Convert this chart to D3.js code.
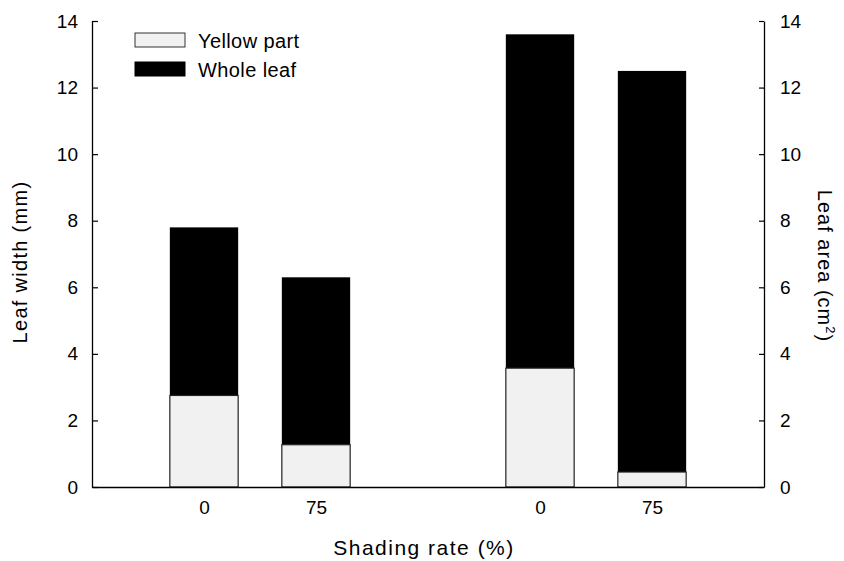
<!DOCTYPE html>
<html>
<head>
<meta charset="utf-8">
<script src="https://cdn.jsdelivr.net/npm/d3@7"></script>
<style>
  body { margin: 0; background: #fff; }
  text { font-family: "Liberation Sans", Arial, sans-serif; fill: #000; }
</style>
</head>
<body>
<div id="chart"></div>
<script>
// data
var slots = [1, 2, 4, 5];              // position of each bar (6-slot axis)
var shadeLabels = ["0", "75", "0", "75"];
var wholeLeaf = [7.8, 6.3, 13.6, 12.5];
var yellowPart = [2.75, 1.27, 3.57, 0.45];
var yTicks = [0, 2, 4, 6, 8, 10, 12, 14];

var svgWidth = 844;
var svgHeight = 561;

var margin = {
      top: 21,
      right: 80,
      bottom: 74,
      left: 92
};

var width = svgWidth - margin.left - margin.right;
var height = svgHeight - margin.top - margin.bottom;

var svg = d3.select("#chart")
            .append("svg")
            .attr("width", svgWidth)
            .attr("height", svgHeight);

var chart = svg.append("g").attr("transform", `translate(${margin.left}, ${margin.top})`);

var xScale = d3.scaleLinear().domain([0, 6]).range([0, width]);
var yScale = d3.scaleLinear().domain([0, 14]).range([height, 0]);
var yRight = d3.scaleLinear().domain([0, 14]).range([height, 0]);

var barW = (xScale(1) - xScale(0)) * 0.61;

var rows = slots.map(function(s, i) {
    return { slot: s, label: shadeLabels[i], whole: wholeLeaf[i], yellow: yellowPart[i] };
});

// whole leaf (black) bars
chart.selectAll(".whole")
     .data(rows)
     .enter()
     .append("rect")
     .attr("class", "whole")
     .attr("x", d => xScale(d.slot) - barW / 2)
     .attr("width", barW)
     .attr("y", d => yScale(d.whole))
     .attr("height", d => yScale(d.yellow) - yScale(d.whole))
     .attr("fill", "#000");

// yellow part bars
chart.selectAll(".yellow")
     .data(rows)
     .enter()
     .append("rect")
     .attr("class", "yellow")
     .attr("x", d => xScale(d.slot) - barW / 2)
     .attr("width", barW)
     .attr("y", d => yScale(d.yellow))
     .attr("height", d => yScale(0) - yScale(d.yellow))
     .attr("fill", "#f1f1f1")
     .attr("stroke", "#222")
     .attr("stroke-width", 1.2);

// axes
var leftAxis = d3.axisLeft(yScale).tickValues(yTicks).tickSizeInner(-6).tickSizeOuter(0).tickPadding(14);
var rightAxis = d3.axisRight(yRight).tickValues(yTicks).tickSizeInner(-5).tickSizeOuter(0).tickPadding(16);
var bottomAxis = d3.axisBottom(xScale).tickValues(slots).tickFormat((d, i) => shadeLabels[i]).tickSize(0).tickPadding(14);

var gl = chart.append("g").call(leftAxis);
var gr = chart.append("g").attr("transform", `translate(${width},0)`).call(rightAxis);
var gb = chart.append("g").attr("transform", `translate(0,${height})`).call(bottomAxis);

[gl, gr, gb].forEach(function(g) {
    g.select(".domain").attr("stroke", "#000").attr("stroke-width", 1.3);
    g.selectAll(".tick line").attr("stroke", "#000").attr("stroke-width", 1.2);
    g.selectAll("text").style("font-size", "19px").style("font-family", "Liberation Sans, Arial, sans-serif");
});

// axis titles
svg.append("text")
   .attr("transform", `translate(27, ${margin.top + height / 2 + 8}) rotate(-90)`)
   .attr("text-anchor", "middle")
   .style("font-size", "20px")
   .style("letter-spacing", "1.3px")
   .text("Leaf width (mm)");

var rt = svg.append("text")
   .attr("transform", `translate(818, ${margin.top + height / 2 + 12}) rotate(90)`)
   .attr("text-anchor", "middle")
   .style("font-size", "20px")
   .style("letter-spacing", "1px");
rt.append("tspan").text("Leaf area (cm");
rt.append("tspan").attr("dy", -8).style("font-size", "13px").text("2");
rt.append("tspan").attr("dy", 8).text(")");

svg.append("text")
   .attr("x", margin.left + width / 2 - 4)
   .attr("y", 555)
   .attr("text-anchor", "middle")
   .style("font-size", "21px")
   .style("letter-spacing", "1.5px")
   .text("Shading rate (%)");

// legend
var legendItems = [
    { name: "Yellow part", fill: "#f1f1f1", stroke: "#333" },
    { name: "Whole leaf", fill: "#000", stroke: "#000" }
];
var legend = svg.append("g").attr("transform", "translate(135, 33)");
var li = legend.selectAll("g")
               .data(legendItems)
               .enter()
               .append("g")
               .attr("transform", (d, i) => `translate(0, ${i * 29})`);
li.append("rect")
  .attr("width", 50)
  .attr("height", 14)
  .attr("fill", d => d.fill)
  .attr("stroke", d => d.stroke)
  .attr("stroke-width", 1);
li.append("text")
  .attr("x", 63)
  .attr("y", 15)
  .style("font-size", "20px")
  .style("letter-spacing", "0.4px")
  .text(d => d.name);
</script>
</body>
</html>
